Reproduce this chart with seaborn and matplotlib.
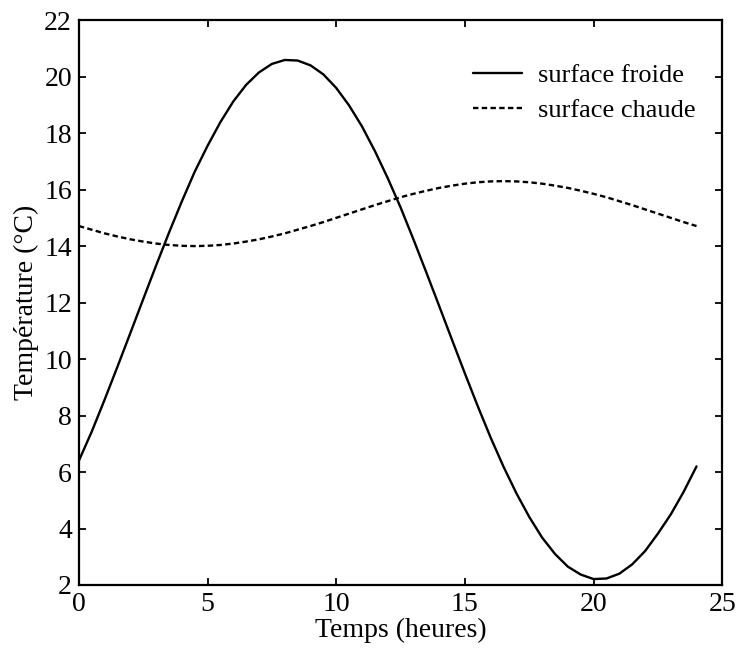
import numpy as np
import pandas as pd
import matplotlib
matplotlib.use("Agg")
import matplotlib.pyplot as plt
import seaborn as sns

# Temps (heures), pas d'une demi-heure
temps = [0, 0.5, 1, 1.5, 2, 2.5, 3, 3.5, 4, 4.5, 5, 5.5, 6, 6.5, 7, 7.5, 8, 8.5,
         9, 9.5, 10, 10.5, 11, 11.5, 12, 12.5, 13, 13.5, 14, 14.5, 15, 15.5,
         16, 16.5, 17, 17.5, 18, 18.5, 19, 19.5, 20, 20.5, 21, 21.5, 22, 22.5,
         23, 23.5, 24]

froide = [6.40, 7.43, 8.56, 9.73, 10.92, 12.12, 13.31, 14.47, 15.58, 16.63,
          17.55, 18.39, 19.12, 19.71, 20.15, 20.45, 20.59, 20.57, 20.40, 20.08,
          19.60, 18.98, 18.24, 17.37, 16.41, 15.37, 14.24, 13.07, 11.88, 10.68,
          9.49, 8.33, 7.22, 6.19, 5.25, 4.41, 3.68, 3.10, 2.65, 2.37, 2.21, 2.23,
          2.40, 2.73, 3.20, 3.82, 4.50, 5.30, 6.20]

chaude = [14.71, 14.58, 14.45, 14.34, 14.24, 14.16, 14.09, 14.04, 14.01, 14.00,
          14.01, 14.04, 14.09, 14.16, 14.24, 14.34, 14.45, 14.58, 14.71, 14.85,
          15.00, 15.15, 15.30, 15.45, 15.59, 15.73, 15.85, 15.96, 16.06, 16.14,
          16.21, 16.26, 16.29, 16.30, 16.29, 16.26, 16.21, 16.14, 16.06, 15.96,
          15.85, 15.73, 15.59, 15.45, 15.30, 15.15, 15.00, 14.85, 14.71]

x_ticks = [0, 5, 10, 15, 20, 25]
y_ticks = [2, 4, 6, 8, 10, 12, 14, 16, 18, 20, 22]

df = pd.DataFrame({"Temps": temps, "surface froide": froide, "surface chaude": chaude})

sns.set_style("ticks")
plt.rcParams['font.family'] = ['Liberation Serif', 'DejaVu Serif']
plt.rcParams['text.color'] = 'black'
plt.rcParams['axes.labelcolor'] = 'black'
plt.rcParams['xtick.color'] = 'black'
plt.rcParams['ytick.color'] = 'black'

fig = plt.figure(figsize=(7.37, 6.5), dpi=100)
ax = fig.add_axes([0.107, 0.100, 0.873, 0.869])

sns.lineplot(data=df, x="Temps", y="surface froide", ax=ax, color="black",
             linewidth=1.7, label="surface froide")
sns.lineplot(data=df, x="Temps", y="surface chaude", ax=ax, color="black",
             linewidth=1.7, linestyle=(0, (2.3, 1.4)), label="surface chaude")

ax.set_xlim(0, 25)
ax.set_ylim(2, 22)
ax.set_xticks(x_ticks)
ax.set_yticks(y_ticks)
ax.tick_params(direction="in", length=5, width=1.3, labelsize=20,
               top=True, right=True, pad=5)
for s in ax.spines.values():
    s.set_visible(True)
    s.set_linewidth(1.6)
    s.set_color("black")

ax.set_xlabel("Temps (heures)", fontsize=20, labelpad=1)
ax.set_ylabel("Température (°C)", fontsize=20, labelpad=4)

ax.legend(loc="upper left", bbox_to_anchor=(0.613, 0.923), frameon=False,
          fontsize=19, handlelength=1.85, handletextpad=0.6, borderpad=0,
          borderaxespad=0, labelspacing=0.45)

fig.savefig("out.png", dpi=100)
